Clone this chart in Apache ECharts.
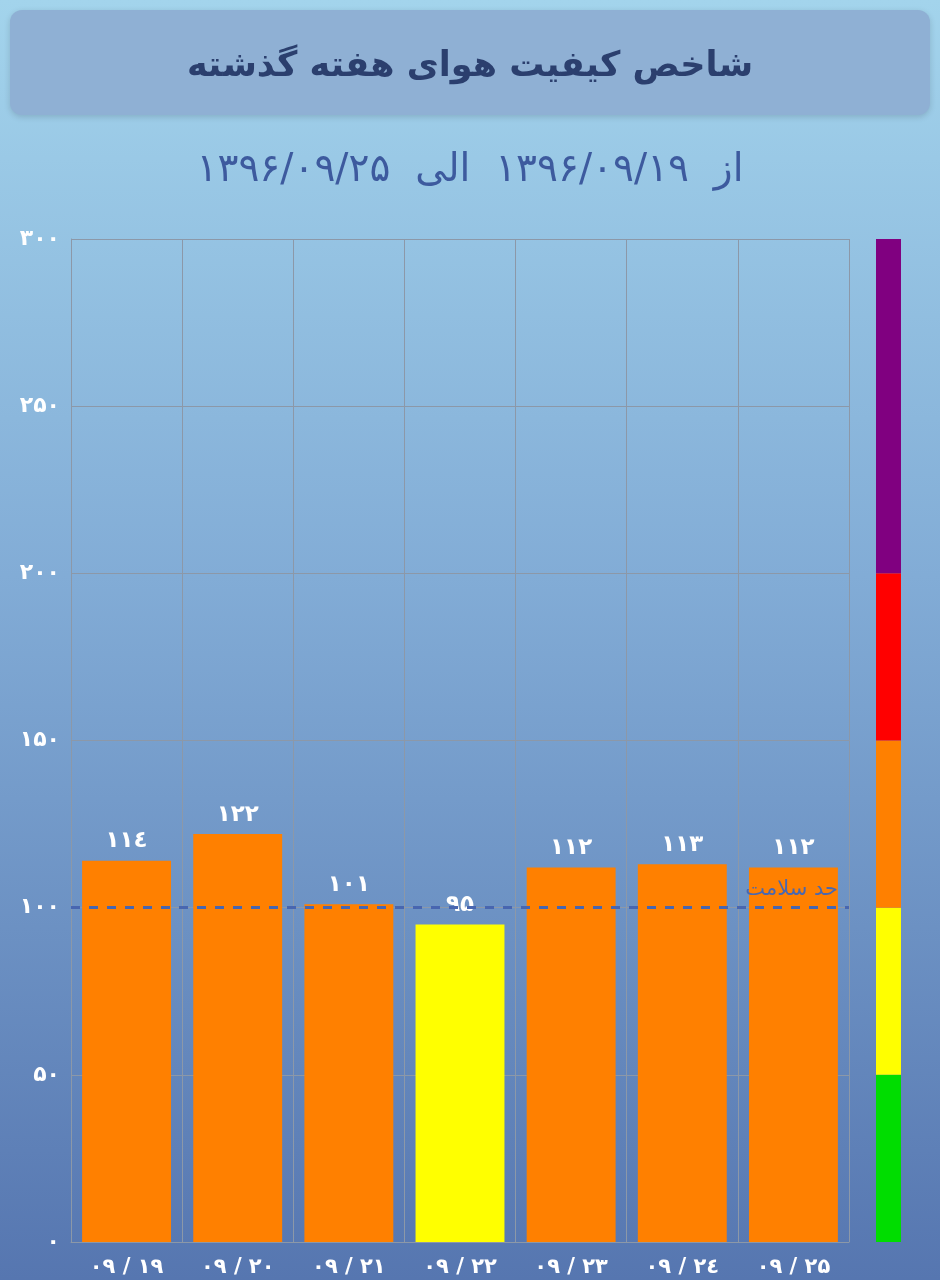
<!DOCTYPE html>
<html><head><meta charset="utf-8">
<script src="https://cdn.jsdelivr.net/npm/echarts@6/dist/echarts.min.js"></script>
<style>html,body{margin:0;padding:0;}#c{width:940px;height:1280px;}</style>
</head><body><div id="c"></div>
<script>
const categories = ['09/19','09/20','09/21','09/22','09/23','09/24','09/25'];
const aqiValues = [114, 122, 101, 95, 112, 113, 112];
const bandSizes = [50, 50, 50, 50, 100];
const bandColors = ['#00dd00', '#ffff00', '#ff8000', '#ff0000', '#800080'];
const healthLimit = 100;
const titleText = 'شاخص کیفیت هوای هفته گذشته';
const subtitleText = 'از  ۱۳۹۶/۰۹/۱۹  الی  ۱۳۹۶/۰۹/۲۵';
const limitLabel = 'حد سلامت';

const fa = ['۰','۱','۲','۳','٤','۵','۶','۷','۸','۹'];
function toFa(s){ return String(s).replace(/[0-9]/g, d => fa[+d]); }
function barColor(v){ return v <= 50 ? bandColors[0] : v <= 100 ? bandColors[1] : v <= 150 ? bandColors[2] : v <= 200 ? bandColors[3] : bandColors[4]; }

const FONT = "'DejaVu Sans', sans-serif";
const chart = echarts.init(document.getElementById('c'));
chart.setOption({
  backgroundColor: new echarts.graphic.LinearGradient(0,0,0,1,[
    {offset:0, color:'#a3d4ec'},{offset:0.45, color:'#82acd6'},{offset:1, color:'#5676b0'}]),
  graphic: [{
    type:'rect', left:10, top:10, shape:{width:920, height:105, r:12},
    style:{fill:'#8fb0d4', shadowBlur:6, shadowColor:'rgba(0,0,0,0.15)', shadowOffsetY:2}
  }],
  title: [
    {text: titleText, left:'center', top:44, textStyle:{fontFamily:FONT, fontSize:35, fontWeight:'bold', color:'#2b3f6e'}},
    {text: subtitleText, left:'center', top:146, textStyle:{fontFamily:FONT, fontSize:39, fontWeight:'normal', color:'#3d5a9e'}}
  ],
  grid: [
    {left:71, right:91, top:239, bottom:38},
    {left:876, width:25, top:239, bottom:38}
  ],
  xAxis: [
    {type:'category', gridIndex:0, data:categories,
     axisLine:{lineStyle:{color:'#8c98a8'}}, axisTick:{show:false},
     splitLine:{show:true, lineStyle:{color:'#8c98a8', width:1}},
     axisLabel:{color:'#fff', fontFamily:FONT, fontWeight:'bold', fontSize:21, margin:15,
       formatter: v => { const p = v.split('/'); return toFa(p[0]) + ' / ' + toFa(p[1]); }}},
    {type:'category', gridIndex:1, data:['a'], show:false}
  ],
  yAxis: [
    {type:'value', gridIndex:0, min:0, max:300, interval:50,
     axisLine:{show:true, lineStyle:{color:'#8c98a8'}}, axisTick:{show:false},
     splitLine:{lineStyle:{color:'#8c98a8', width:1}},
     axisLabel:{color:'#fff', fontFamily:FONT, fontWeight:'bold', fontSize:22, margin:11, formatter: v => toFa(v)}},
    {type:'value', gridIndex:1, min:0, max:300, show:false}
  ],
  series: [
    {type:'bar', xAxisIndex:0, yAxisIndex:0, barCategoryGap:'20%',
     data: aqiValues.map(v => ({value:v, itemStyle:{color:barColor(v)}})),
     label:{show:true, position:'top', distance:8, color:'#fff', fontFamily:FONT, fontWeight:'bold', fontSize:23,
       formatter: p => toFa(p.value)},
     markLine:{silent:true, symbol:'none',
       lineStyle:{color:'#4866b0', type:[9,9], width:3},
       label:{show:true, position:'insideEndTop', formatter: limitLabel, color:'#4a68b0', fontFamily:FONT, fontSize:21, distance:[11,8]},
       data:[{yAxis: healthLimit}]}},
    ...bandSizes.map((s,i) => ({type:'bar', xAxisIndex:1, yAxisIndex:1, stack:'band', barWidth:'100%',
       data:[s], itemStyle:{color:bandColors[i]}, silent:true}))
  ]
});
</script></body></html>
